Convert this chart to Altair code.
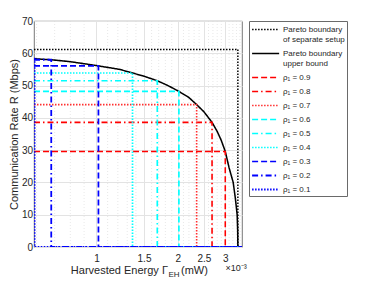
import altair as alt
import pandas as pd

# ---------------- data ----------------
x_domain = [0.587, 3.46]          # harvested energy (x 1e-3 mW), log axis
x_ticks = [1, 1.5, 2, 2.5, 3]
y_ticks = [0, 10, 20, 30, 40, 50, 60, 70]
minor_x = [0.6, 0.7, 0.8, 0.9, 1.1, 1.2, 1.3, 1.4, 1.6, 1.7, 1.8, 1.9,
           2.1, 2.2, 2.3, 2.4, 2.6, 2.7, 2.8, 2.9, 3.1, 3.2, 3.3, 3.4]

# Pareto boundary upper bound
ub_E = [0.587, 0.68, 0.8, 1.0, 1.22, 1.36, 1.5, 1.68, 1.84, 2.02, 2.2, 2.35,
        2.5, 2.68, 2.8, 2.9, 3.0, 3.1, 3.21, 3.27, 3.32, 3.335, 3.34]
ub_R = [58.3, 58.0, 57.4, 56.2, 55.0, 53.9, 52.9, 51.5, 50.0, 48.2, 46.3, 44.1,
        41.9, 38.6, 35.8, 33.0, 29.6, 24.5, 20.0, 15.0, 10.0, 5.0, 0.0]

# Pareto boundary of separate setup
sep_R = 61.2
sep_E = 3.34

# operating points for each rho_1
rho = [0.9, 0.8, 0.7, 0.6, 0.5, 0.4, 0.3, 0.2, 0.1]
rho_E = [3.0, 2.68, 2.35, 2.02, 1.68, 1.36, 1.017, 0.68, 0.59]
rho_R = [29.6, 38.6, 44.1, 48.2, 51.5, 53.9, 56.1, 58.0, 58.3]
rho_color = ["#FF0000", "#FF0000", "#FF3030", "#00FFFF", "#00FFFF", "#00FFFF",
             "#0000FF", "#0000FF", "#0000FF"]
rho_dash = [[6, 3], [6, 3, 1.5, 3], [1.5, 1.5], [6, 3], [6, 3, 1.5, 3], [1.5, 1.5],
            [6, 3], [6, 3, 1.5, 3], [1.5, 1.5]]

# axis title pieces
title_main = "Harvested Energy Γ"
title_sub = "EH"
title_unit = "(mW)"
exponent = "×10⁻³"

# ---------------- build tables ----------------
SEP = "Pareto boundary|of separate setup"
UB = "Pareto boundary|upper bound"
names = [SEP, UB] + [f"ρ₁ = {r}" for r in rho]
colors = ["#000000", "#000000"] + rho_color
dashes = [[1.5, 1.5], [1, 0]] + rho_dash
widths = [1.5, 1.8] + [1.5] * 9

rows = []
x0, x1 = x_domain
for i, (xx, yy) in enumerate([(x0, sep_R), (sep_E, sep_R), (sep_E, 0)]):
    rows.append(dict(series=SEP, o=i, E=xx, R=yy))
for i, (xx, yy) in enumerate(zip(ub_E, ub_R)):
    rows.append(dict(series=UB, o=i, E=xx, R=yy))
for r, e, rr in zip(rho, rho_E, rho_R):
    nm = f"ρ₁ = {r}"
    for i, (xx, yy) in enumerate([(x0, rr), (e, rr), (e, 0), (x1, 0)]):
        rows.append(dict(series=nm, o=i, E=xx, R=yy))
df = pd.DataFrame(rows)

xscale = alt.Scale(type="log", domain=x_domain, nice=False)
yscale = alt.Scale(domain=[0, 70], nice=False)

font = "Liberation Sans"
tcol = "#262626"

grid_minor = alt.Chart(pd.DataFrame({"E": minor_x})).mark_rule(
    color="#d9d9d9", strokeDash=[1, 2], strokeWidth=0.6
).encode(x=alt.X("E:Q", scale=xscale))

lines = alt.Chart(df).mark_line(clip=True).encode(
    x=alt.X("E:Q", scale=xscale,
            axis=alt.Axis(values=x_ticks, title=None,
                          grid=True, gridColor="#e3e3e3", labelFlush=False,
                          ticks=False, domain=False, labelPadding=6)),
    y=alt.Y("R:Q", scale=yscale,
            axis=alt.Axis(values=y_ticks, title="Communication Rate  R  (Mbps)",
                          grid=True, gridColor="#e3e3e3", ticks=False,
                          domain=False, labelPadding=1.5, titlePadding=2)),
    color=alt.Color("series:N",
                    scale=alt.Scale(domain=names, range=colors),
                    legend=alt.Legend(title=None, orient="right", offset=7,
                                      symbolType="M-1,0H4", symbolSize=117,
                                      symbolStrokeWidth=1.5,
                                      labelExpr="split(datum.label, '|')",
                                      labelFontSize=8, labelFont=font,
                                      labelColor=tcol, labelOffset=19,
                                      rowPadding=3, padding=2,
                                      strokeColor="#6a6a6a", fillColor="white")),
    strokeDash=alt.StrokeDash("series:N",
                              scale=alt.Scale(domain=names, range=dashes)),
    strokeWidth=alt.StrokeWidth("series:N",
                                scale=alt.Scale(domain=names, range=widths),
                                legend=None),
    order="o:Q",
)

t_main = alt.Chart(pd.DataFrame({"t": [title_main]})).mark_text(
    fontSize=11, font=font, color=tcol, align="right", baseline="middle"
).encode(text="t:N", x=alt.value(134), y=alt.value(250))

t_sub = alt.Chart(pd.DataFrame({"t": [title_sub]})).mark_text(
    fontSize=8, font=font, color=tcol, align="left", baseline="middle"
).encode(text="t:N", x=alt.value(134.5), y=alt.value(254))

t_unit = alt.Chart(pd.DataFrame({"t": [title_unit]})).mark_text(
    fontSize=11, font=font, color=tcol, align="left", baseline="middle"
).encode(text="t:N", x=alt.value(147), y=alt.value(250))

t_exp = alt.Chart(pd.DataFrame({"t": [exponent]})).mark_text(
    fontSize=9, font=font, color=tcol, align="center", baseline="middle"
).encode(text="t:N", x=alt.value(202), y=alt.value(247))

chart = alt.layer(grid_minor, lines, t_main, t_sub, t_unit, t_exp).properties(
    width=208, height=226,
    padding={"left": 0, "top": 8, "right": 2, "bottom": 0},
).configure_view(stroke="#555555", strokeWidth=0.8).configure_axis(
    labelFont=font, titleFont=font, labelFontSize=10, titleFontSize=11,
    labelColor=tcol, titleColor=tcol, titleFontWeight="normal"
).configure_legend(labelLimit=200)

chart.save("out.html", embed_options={"renderer": "svg", "actions": False})
